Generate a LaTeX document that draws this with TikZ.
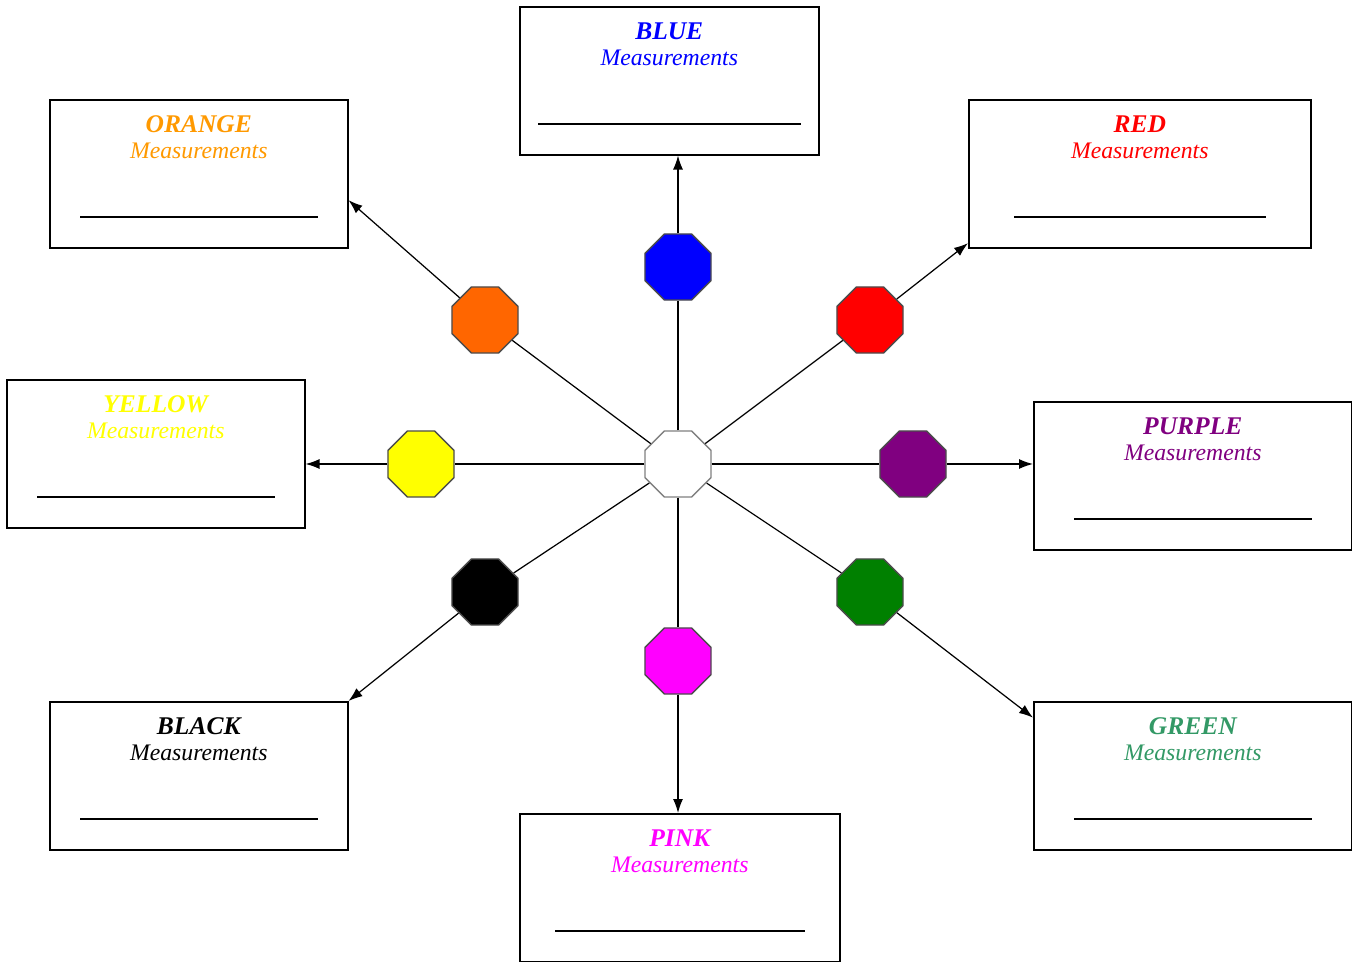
\documentclass[tikz,border=0pt]{standalone}
\usepackage{fontspec}
\setmainfont{Liberation Serif}
\usetikzlibrary{arrows.meta}
\usetikzlibrary{positioning}
\usetikzlibrary{shapes.geometric}
\definecolor{cblue}{HTML}{0000FF}
\definecolor{cred}{HTML}{FF0000}
\definecolor{corange}{HTML}{FF6600}
\definecolor{corangetxt}{HTML}{FF9900}
\definecolor{cyellow}{HTML}{FFFF00}
\definecolor{cpurple}{HTML}{800080}
\definecolor{cgreen}{HTML}{008000}
\definecolor{cgreentxt}{HTML}{339966}
\definecolor{cpink}{HTML}{FF00FF}
\tikzset{
    measbox/.style = {draw,line width=0.9pt,minimum width=#1,minimum height=2.96cm,inner sep=0,anchor=north west},
    boxtitle/.style = {inner sep=0,font=\bfseries\itshape\fontsize{14.5}{16}\selectfont},
    boxsub/.style = {inner sep=0,font=\itshape\fontsize{13.5}{15}\selectfont},
    blank/.style = {line width=0.8pt},
    octa/.style = {regular polygon,regular polygon sides=8,minimum size=1.43cm,inner sep=0,draw=gray!60!black,line width=0.8pt}
}
\tikzset{
    spoke/.style = {line width=0.7pt},
    pointer/.style = {line width=0.7pt,-{Latex[length=2.8mm,width=2mm]}}
}

\begin{document}
\begin{tikzpicture}[x=0.02cm,y=-0.02cm]
        \useasboundingbox (0,0) rectangle (1352,962);
        % Measurement boxes
        \foreach \nm/\x/\y/\w/\ins/\col/\word in {
            bluebox/519/6/5.98cm/19/cblue/BLUE,
            orangebox/49/99/5.96cm/31/corangetxt/ORANGE,
            redbox/968/99/6.84cm/46/cred/RED,
            yellowbox/6/379/5.96cm/31/cyellow/YELLOW,
            purplebox/1033/401/6.36cm/41/cpurple/PURPLE,
            blackbox/49/701/5.96cm/31/black/BLACK,
            greenbox/1033/701/6.36cm/41/cgreentxt/GREEN,
            pinkbox/519/813/6.4cm/36/cpink/PINK}
        {
            \node[measbox=\w] (\nm) at (\x,\y) {};
            \node[boxtitle,text=\col] (\nm-t) at ([yshift=-0.5cm]\nm.north) {\word};
            \node[boxsub,text=\col] (\nm-s) at ([yshift=-1.04cm]\nm.north) {Measurements};
            \draw[blank] ([shift={(\ins,118)}]\nm.north west) -- ([shift={(-\ins,118)}]\nm.north east);
        }
        % Octagons
        \node[octa,fill=white,draw=gray] (C) at (678,464) {};
        \foreach \nm/\x/\y/\col in {
            oblue/678/267/cblue, ored/870/320/cred, oorange/485/320/corange,
            oyellow/421/464/cyellow, opurple/913/464/cpurple, oblack/485/592/black,
            ogreen/870/592/cgreen, opink/678/661/cpink}
            \node[octa,fill=\col] (\nm) at (\x,\y) {};
        % Spokes
        \foreach \dest in {oblue,ored,oorange,oyellow,opurple,oblack,ogreen,opink}
            \draw[spoke] (C) -- (\dest);
        % Pointers to the boxes
        \draw[pointer] (oblue) -- (oblue |- bluebox.south);
        \draw[pointer] (ored) -- (redbox.202);
        \draw[pointer] (oorange) -- (orangebox.-10);
        \draw[pointer] (oyellow) -- (oyellow -| yellowbox.east);
        \draw[pointer] (opurple) -- (opurple -| purplebox.west);
        \draw[pointer] (oblack) -- (blackbox.north east);
        \draw[pointer] (ogreen) -- (greenbox.160);
        \draw[pointer] (opink) -- (opink |- pinkbox.north);
\end{tikzpicture}
\end{document}
